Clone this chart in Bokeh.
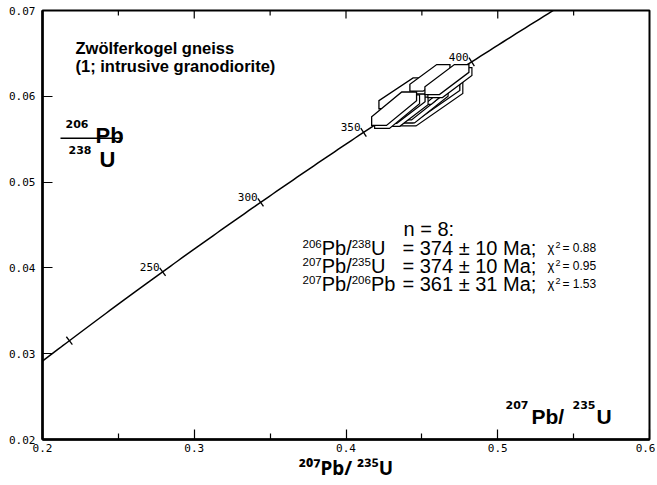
import numpy as np
from bokeh.plotting import figure
from bokeh.models import Label, LinearAxis, FixedTicker, Range1d, ColumnDataSource
from bokeh.embed import file_html
from bokeh.resources import INLINE
from bokeh.core.properties import value

# ---------------- data ----------------
# U-Pb analyses (2 sigma error boxes), in drawing order (back to front)
pb207_u235 = [0.4520, 0.4385, 0.4488, 0.4586, 0.4553, 0.4382, 0.4665, 0.4317]
pb207_u235_err = [0.0230, 0.0168, 0.0165, 0.0132, 0.0132, 0.0139, 0.0145, 0.0148]
pb206_u238 = [0.05945, 0.06035, 0.05935, 0.06115, 0.06215, 0.05855, 0.06195, 0.05855]
pb206_u238_err = [0.00255, 0.00180, 0.00210, 0.00175, 0.00155, 0.00170, 0.00175, 0.00195]

# concordia
LAMBDA_238 = 1.55125e-10
LAMBDA_235 = 9.8485e-10
concordia_ages_ma = np.arange(150, 462, 2)
tick_ages_ma = [200, 250, 300, 350, 400]
tick_age_labels = ["", "250", "300", "350", "400"]

x_ticks = [0.2, 0.3, 0.4, 0.5, 0.6]
x_tick_labels = ["0.2", "0.3", "0.4", "0.5", "0.6"]
x_minor_ticks = [0.25, 0.35, 0.45, 0.55]
y_ticks = [0.02, 0.03, 0.04, 0.05, 0.06, 0.07]
y_tick_labels = ["0.02", "0.03", "0.04", "0.05", "0.06", "0.07"]
x_axis_title = "²⁰⁷Pb/ ²³⁵U"

title_lines = ["Zwölferkogel gneiss", "(1; intrusive granodiorite)"]
n_text = "n = 8:"
result_lines = [
    ("206", "Pb/", "238", "U", "= 374 ± 10 Ma;", "0.88"),
    ("207", "Pb/", "235", "U", "= 374 ± 10 Ma;", "0.95"),
    ("207", "Pb/", "206", "Pb", "= 361 ± 31 Ma;", "1.53"),
]

# ---------------- figure ----------------
X0, X1, Y0, Y1 = 0.2, 0.6, 0.02, 0.07
W, H = 655, 483
FL, FR, FT, FB = 42, 649, 10, 440   # frame edges in page pixels
p = figure(width=W, height=H, output_backend="svg", toolbar_location=None,
           x_range=Range1d(X0, X1), y_range=Range1d(Y0, Y1),
           min_border_left=FL, min_border_right=W - FR, min_border_top=FT,
           min_border_bottom=H - FB,
           x_axis_type=None, y_axis_type=None)
p.grid.visible = False
p.background_fill_color = "white"
p.border_fill_color = "white"
p.outline_line_color = "black"
p.outline_line_width = 2

TICKFONT = "DejaVu Sans Mono"
SANS = "Liberation Sans"

xb = LinearAxis(ticker=FixedTicker(ticks=x_ticks, minor_ticks=x_minor_ticks),
                major_label_overrides={t: l for t, l in zip(x_ticks, x_tick_labels)},
                axis_label=x_axis_title)
yl = LinearAxis(ticker=FixedTicker(ticks=y_ticks),
                major_label_overrides={t: l for t, l in zip(y_ticks, y_tick_labels)})
for ax in (xb, yl):
    ax.axis_line_color = "black"
    ax.axis_line_width = 2.5
    ax.major_tick_in = 10
    ax.major_tick_out = 0
    ax.minor_tick_in = 6
    ax.minor_tick_out = 0
    ax.major_tick_line_width = 1.2
    ax.minor_tick_line_width = 1.2
    ax.major_label_text_font = TICKFONT
    ax.major_label_text_font_size = "11px"
    ax.major_label_text_color = "black"
xb.major_label_standoff = 4
xb.axis_label_standoff = 0
xb.axis_label_text_font = "Noto Sans"
xb.axis_label_text_font_size = "19px"
xb.axis_label_text_font_style = "bold"
xb.axis_label_text_color = "black"
yl.major_label_standoff = 7
yl.minor_tick_line_color = None
p.add_layout(xb, "below")
p.add_layout(yl, "left")

def px_x(px):
    return X0 + (px - FL) / (FR - FL) * (X1 - X0)
def px_y(py):
    return Y0 + (FB - py) / (FB - FT) * (Y1 - Y0)
DY_PX = (Y1 - Y0) / (FB - FT)
DX_PX = (X1 - X0) / (FR - FL)

# top-axis inward ticks
top_major = [t for t in x_ticks if X0 < t < X1]
p.segment(x0=top_major, x1=top_major, y0=[Y1] * len(top_major),
          y1=[Y1 - 8 * DY_PX] * len(top_major), line_color="black", line_width=1.2)
p.segment(x0=x_minor_ticks, x1=x_minor_ticks, y0=[Y1] * len(x_minor_ticks),
          y1=[Y1 - 5 * DY_PX] * len(x_minor_ticks), line_color="black", line_width=1.2)

# ---------------- concordia ----------------
t = concordia_ages_ma * 1e6
cx = np.exp(LAMBDA_235 * t) - 1
cy = np.exp(LAMBDA_238 * t) - 1
p.line(cx, cy, line_color="black", line_width=1.5)

ta = np.array(tick_ages_ma) * 1e6
tx = np.exp(LAMBDA_235 * ta) - 1
ty = np.exp(LAMBDA_238 * ta) - 1
dxdt = LAMBDA_235 * np.exp(LAMBDA_235 * ta) / DX_PX
dydt = LAMBDA_238 * np.exp(LAMBDA_238 * ta) / DY_PX
theta = np.arctan2(dydt, dxdt)
tsrc = ColumnDataSource(dict(x=tx, y=ty, angle=theta + np.pi / 2, label=tick_age_labels))
p.scatter("x", "y", source=tsrc, marker="dash", size=10, angle="angle",
          line_color="black", line_width=1.3)
p.text("x", "y", text="label", source=tsrc, text_font=value(TICKFONT), text_font_size="11px",
       text_align="right", text_baseline="alphabetic", x_offset=-3, y_offset=-5,
       text_color="black")

# ---------------- error boxes (pseudo-3D hexagons) ----------------
AXF, AYF = 0.33, 0.26
SHX, SHY = 3 * DX_PX, -3 * DY_PX
for x, ex, y, ey in zip(pb207_u235, pb207_u235_err, pb206_u238, pb206_u238_err):
    ax_, ay_ = AXF * 2 * ex, AYF * 2 * ey
    hx = np.array([x - ex, x - ex + ax_, x + ex, x + ex, x + ex - ax_, x - ex])
    hy = np.array([y - ey, y - ey, y + ey - ay_, y + ey, y + ey, y - ey + ay_])
    p.patch(hx + SHX, hy + SHY, fill_color="white", line_color="black", line_width=1.2,
            line_join="miter")
    p.patch(hx, hy, fill_color="white", line_color="black", line_width=1.3, line_join="miter")

# ---------------- texts ----------------
def lab(txt, px, py, size, bold=False, font=SANS, align="left"):
    p.add_layout(Label(x=px_x(px), y=px_y(py), text=txt, text_font=font,
                       text_font_size=f"{size}px",
                       text_font_style="bold" if bold else "normal",
                       text_align=align, text_baseline="alphabetic", text_color="black"))

lab(title_lines[0], 75, 48, 16.5, bold=True)
lab(title_lines[1], 75, 66, 16.5, bold=True)

SUPF = "DejaVu Sans"
# y-axis label (fraction)
lab("206", 65, 124, 11, bold=True, font=SUPF)
lab("Pb", 95, 135, 22, bold=True)
p.line([px_x(60), px_x(122)], [px_y(138), px_y(138)], line_color="black", line_width=1.5)
lab("238", 68, 150, 11, bold=True, font=SUPF)
lab("U", 99, 159, 22, bold=True)

# x label inside frame
lab("207", 505, 405, 11, bold=True, font=SUPF)
lab("Pb/", 531, 417, 21, bold=True)
lab("235", 572, 405, 11, bold=True, font=SUPF)
lab("U", 596, 417, 21, bold=True)

# results block
W_REG = {"0": .556, "1": .556, "2": .556, "3": .556, "4": .556, "5": .556, "6": .556,
         "7": .556, "8": .556, "9": .556, "P": .667, "b": .556, "/": .278, "U": .722}
def width(s, size):
    return sum(W_REG.get(c, .556) for c in s) * size

lab(n_text, 403, 229, 20)
baselines = [248, 266, 284]
MAIN, SUP = 20, 11.5
for (s1, m1, s2, m2, res, chi), by in zip(result_lines, baselines):
    x = 302
    lab(s1, x, by - 4, SUP); x += width(s1, SUP)
    lab(m1, x, by, MAIN); x += width(m1, MAIN)
    lab(s2, x, by - 4, SUP); x += width(s2, SUP)
    lab(m2, x, by, MAIN)
    lab(res, 402, by, MAIN)
    lab("χ", 547, by, 13)
    lab("2", 555, by - 3, 9)
    lab("= " + chi, 562, by, 12)

open("out.html", "w").write(file_html(p, INLINE))
